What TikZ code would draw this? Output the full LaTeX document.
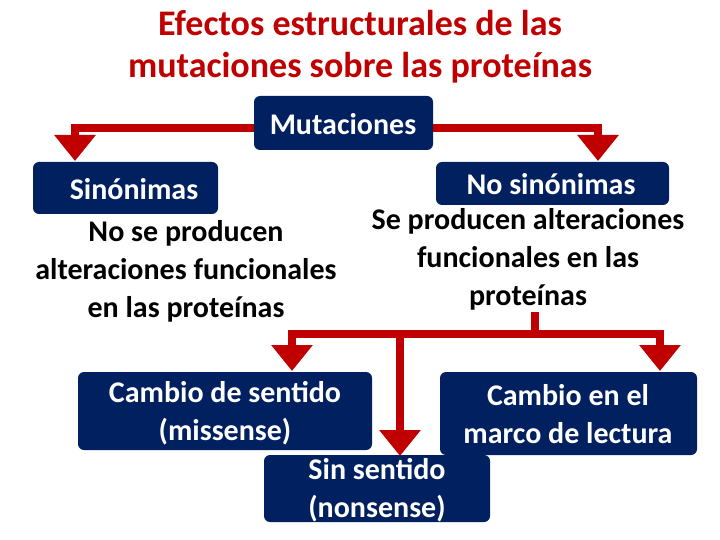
\documentclass[tikz,border=0pt]{standalone}
\usepackage{fontspec}
\setmainfont{Carlito}
\usetikzlibrary{arrows.meta}
\definecolor{navy}{RGB}{0,32,96}
\definecolor{dred}{RGB}{192,0,0}
\begin{document}
\begin{tikzpicture}[x=1pt,y=-1pt,
  box/.style={fill=navy,rounded corners=6pt,draw=none},
  wt/.style={text=white,font=\bfseries\fontsize{30}{38}\selectfont,align=center,inner sep=0},
  bt/.style={text=black,font=\bfseries\fontsize{30}{38}\selectfont,align=center,inner sep=0},
  rarr/.style={draw=dred,line width=8pt,-{Triangle[width=40pt,length=26pt]}},
  rline/.style={draw=dred,line width=8pt}]
\useasboundingbox (0,0) rectangle (720,540);
\node[text=dred,font=\bfseries\fontsize{36}{42}\selectfont,align=center] (title) at (360,47) {Efectos estructurales de las\\mutaciones sobre las proteínas};
% boxes
\fill[box] (254,96) rectangle (433,150);
\node[wt] (mut) at (343,124) {Mutaciones};
\fill[box] (33,162) rectangle (218,214);
\node[wt] (sin) at (134,189) {Sinónimas};
\fill[box] (436,162) rectangle (669,205);
\node[wt] (nosin) at (551,184) {No sinónimas};
\node[bt] (sintxt) at (186,271) {No se producen\\alteraciones funcionales\\en las proteínas};
\node[bt] (nostxt) at (528,259) {Se producen alteraciones\\funcionales en las\\proteínas};
\fill[box] (78,372) rectangle (372,450);
\node[wt] (miss) at (225,413) {Cambio de sentido\\(missense)};
\fill[box] (440,372) rectangle (697,455);
\node[wt] (marco) at (568,414) {Cambio en el\\marco de lectura};
\fill[box] (264,455) rectangle (490,522);
\node[wt] (non) at (377,490) {Sin sentido\\(nonsense)};
% arrows
\coordinate (jl) at (75,128);
\coordinate (jr) at (598,128);
\draw[rarr] (254,128) -- (jl) -- (75,161);
\draw[rarr] (433,128) -- (jr) -- (598,161);
\coordinate (jb) at (535,334);
\draw[rline] (535,312) -- (jb);
\draw[rarr] (jb) -- (292,334) -- (292,371);
\draw[rarr] (jb) -- (660,334) -- (660,371);
\draw[rarr] (400,330) -- (400,456);
\end{tikzpicture}
\end{document}
